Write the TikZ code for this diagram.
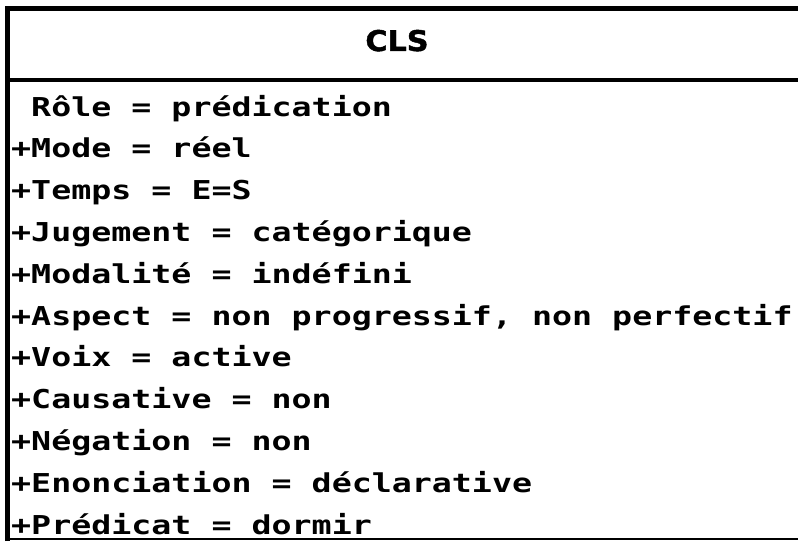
\documentclass[tikz,border=0pt]{standalone}
\usepackage{fontspec}
\usepackage{tikz}
\usetikzlibrary{positioning}
\newfontfamily\attrfont{DejaVu Sans Mono Bold}[FakeStretch=1.28]
\newfontfamily\clsfont{DejaVu Sans Bold}[FakeStretch=1.06, FakeBold=1.5]

\begin{document}
\begin{tikzpicture}[
    x=1pt, y=-1pt,
    attr/.style={inner sep=0pt, anchor=base west, text height=28pt, text depth=13.4pt, font=\attrfont\fontsize{26}{30}\selectfont},
    clsname/.style={inner sep=0pt, anchor=base, font=\clsfont\fontsize{28.5}{32}\selectfont},
  ]
    \useasboundingbox[fill=white] (0,0) rectangle (798,543);
    % class box, open on the right
    \draw[line width=2pt] (7,539) -- (805,539);
    \draw[line width=5pt] (7,541) -- (7,8.5) -- (805,8.5);
    \draw[line width=4pt] (7,80.5) -- (805,80.5);

    \node[clsname] (title) at (397,51) {CLS};

    \node[attr] (role) at (11,116) {\phantom{+}Rôle = prédication};
    \node[attr, below=0pt of role.south west, anchor=north west] (mode) {+Mode = réel};
    \node[attr, below=0pt of mode.south west, anchor=north west] (temps) {+Temps = E=S};
    \node[attr, below=0pt of temps.south west, anchor=north west] (jugement) {+Jugement = catégorique};
    \node[attr, below=0pt of jugement.south west, anchor=north west] (modalite) {+Modalité = indéfini};
    \node[attr, below=0pt of modalite.south west, anchor=north west] (aspect) {+Aspect = non progressif, non perfectif};
    \node[attr, below=0pt of aspect.south west, anchor=north west] (voix) {+Voix = active};
    \node[attr, below=0pt of voix.south west, anchor=north west] (causative) {+Causative = non};
    \node[attr, below=0pt of causative.south west, anchor=north west] (negation) {+Négation = non};
    \node[attr, below=0pt of negation.south west, anchor=north west] (enonciation) {+Enonciation = déclarative};
    \node[attr, below=0pt of enonciation.south west, anchor=north west] (predicat) {+Prédicat = dormir};
  \end{tikzpicture}
\end{document}
